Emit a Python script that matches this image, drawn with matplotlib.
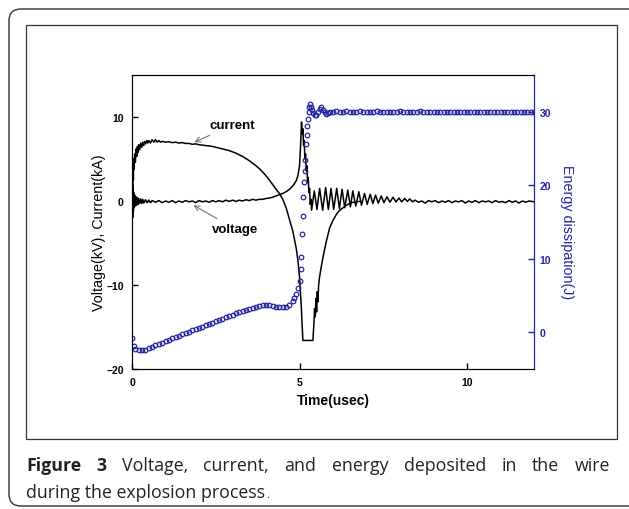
import numpy as np
import matplotlib.pyplot as plt
from matplotlib.patches import PathPatch, Rectangle
from matplotlib.path import Path

# current through the wire (kA)
t_current = [0.00, 0.01, 0.02, 0.03, 0.04, 0.05, 0.06, 0.08, 0.10, 0.12, 0.14, 0.16, 0.18, 0.20,
             0.23, 0.26, 0.29, 0.32, 0.35, 0.38, 0.41, 0.44, 0.47, 0.50, 0.55, 0.60, 0.65, 0.70,
             0.75, 0.80, 0.85, 0.90, 1.0, 1.1, 1.2, 1.3, 1.4, 1.5, 1.6, 1.7, 1.8, 1.9, 2.0, 2.1,
             2.2, 2.3, 2.4, 2.5, 2.6, 2.7, 2.8, 2.9, 3.0, 3.1, 3.2, 3.3, 3.4, 3.5, 3.6, 3.7, 3.8,
             3.9, 4.0, 4.1, 4.2, 4.3, 4.4, 4.5, 4.6, 4.7, 4.8, 4.9, 4.95, 5.0, 5.05, 5.1, 5.2,
             5.3, 5.4, 5.43, 5.45, 5.47, 5.49, 5.51, 5.53, 5.55, 5.57, 5.6, 5.65, 5.7, 5.8, 5.9,
             6.0, 6.1, 6.2, 6.3, 6.4, 6.5, 6.6, 6.8]
current = [-3.5, 2.0, 0.5, 4.0, 2.5, 5.0, 3.8, 5.6, 4.6, 6.2, 5.3, 6.5, 5.8, 6.7,
           6.1, 6.9, 6.4, 7.0, 6.6, 7.1, 6.8, 7.2, 6.9, 7.2, 6.9, 7.3, 7.0, 7.3,
           7.0, 7.2, 7.0, 7.1, 7.0, 7.05, 6.95, 7.0, 6.9, 6.95, 6.85, 6.85, 6.75, 6.8, 6.7, 6.65,
           6.6, 6.55, 6.5, 6.4, 6.3, 6.2, 6.1, 6.0, 5.85, 5.7, 5.5, 5.3, 5.05, 4.8, 4.5, 4.2, 3.85,
           3.45, 3.0, 2.5, 1.95, 1.4, 0.9, 0.2, -0.8, -2.2, -3.6, -5.6, -7.0, -9.0, -12.4, -16.6, -16.6,
           -16.6, -16.6, -14.5, -12.8, -13.8, -11.6, -13.2, -10.8, -12.0, -10.0, -9.0, -7.8, -6.7, -4.8, -3.2,
           -2.3, -1.6, -1.1, -0.8, -0.5, -0.3, -0.15, -0.05]

# voltage across the wire (kV)
t_voltage = [0.00, 0.005, 0.01, 0.02, 0.03, 0.04, 0.05, 0.06, 0.08, 0.10, 0.12, 0.14, 0.16, 0.18,
             0.20, 0.23, 0.26, 0.29, 0.32, 0.35, 0.40, 0.45, 0.50, 0.55, 0.60, 0.70, 0.80, 0.90,
             1.0, 1.1, 1.2, 1.3, 1.4, 1.5, 1.6, 1.7, 1.8, 1.9, 2.0, 2.1, 2.2, 2.3, 2.4, 2.5, 2.6,
             2.7, 2.8, 2.9, 3.0, 3.1, 3.2, 3.3, 3.4, 3.5, 3.6, 3.7, 3.8, 3.9, 4.0, 4.1, 4.2, 4.3,
             4.4, 4.5, 4.6, 4.7, 4.8, 4.9, 4.95, 5.00, 5.03, 5.06, 5.08, 5.10, 5.12, 5.14, 5.16,
             5.18, 5.20, 5.22, 5.24, 5.26, 5.28, 5.30, 5.32, 5.34, 5.36, 5.44, 5.52, 5.60, 5.69,
             5.78, 5.86, 5.94, 6.02, 6.11, 6.19, 6.27, 6.35, 6.44, 6.52, 6.59, 6.68, 6.77, 6.85,
             6.94, 7.02, 7.11, 7.19, 7.27, 7.35, 7.44, 7.52, 7.61, 7.70, 7.79, 7.88, 7.97, 8.05,
             8.14, 8.22, 8.29, 8.37, 8.45, 8.55, 8.65, 8.75, 8.85, 8.95, 9.05, 9.15, 9.25, 9.35,
             9.45, 9.55, 9.65, 9.75, 9.85, 9.95, 10.05, 10.15, 10.25, 10.35, 10.45, 10.55, 10.65,
             10.75, 10.85, 10.95, 11.05, 11.15, 11.25, 11.35, 11.45, 11.55, 11.65, 11.75, 11.85, 12.0]
voltage = [0.0, -4.0, 3.0, -2.0, 1.5, -1.2, 1.0, -0.8, 0.7, -0.6, 0.5, -0.5, 0.4, -0.4,
           0.3, -0.3, 0.25, -0.3, 0.2, -0.25, 0.15, -0.2, 0.1, -0.2, 0.05, -0.15, 0.05, -0.2,
           0.0, -0.15, 0.05, -0.2, 0.0, -0.15, 0.05, -0.1, 0.0, -0.2, 0.05, -0.1, 0.0, -0.15, 0.05, -0.1, 0.05,
           -0.1, 0.1, -0.05, 0.1, -0.05, 0.1, 0.0, 0.15, 0.05, 0.2, 0.1, 0.2, 0.2, 0.3, 0.35, 0.45, 0.6,
           0.75, 0.9, 1.1, 1.4, 1.8, 2.4, 3.0, 4.2, 6.5, 9.4, 8.0, 8.6, 6.6, 7.2, 5.0,
           5.6, 3.6, 4.2, 2.2, 2.8, 1.0, 1.5, -0.4, 0.2, -1.1, 1.2, -1.0, 1.5, -1.1,
           1.6, -1.0, 1.5, -1.0, 1.5, -0.9, 1.4, -0.8, 1.3, -0.7, 1.2, -0.6, 1.1, -0.5,
           0.9, -0.4, 0.8, -0.3, 0.7, -0.25, 0.6, -0.2, 0.5, -0.15, 0.45, -0.1, 0.35, -0.1,
           0.3, -0.05, 0.25, -0.1, 0.1, -0.15, 0.0, -0.25, 0.05, -0.1, 0.05, -0.2, 0.0, -0.15,
           0.05, -0.2, 0.0, -0.1, 0.05, -0.25, 0.0, -0.15, 0.05, -0.2, 0.0, -0.1, 0.0,
           -0.2, 0.05, -0.15, -0.05, -0.2, 0.05, -0.15, 0.0, -0.25, 0.0, -0.15, 0.0, -0.1]

# energy dissipated in the wire (J)
t_energy = [0.00, 0.05, 0.10, 0.20, 0.30, 0.40, 0.50, 0.60, 0.70, 0.80, 0.90, 1.00, 1.10, 1.20,
            1.30, 1.40, 1.50, 1.60, 1.70, 1.80, 1.90, 2.00, 2.10, 2.20, 2.30, 2.40, 2.50, 2.60,
            2.70, 2.80, 2.90, 3.00, 3.10, 3.20, 3.30, 3.40, 3.50, 3.60, 3.70, 3.80, 3.90, 4.00,
            4.10, 4.20, 4.30, 4.40, 4.50, 4.60, 4.70, 4.80, 4.85, 4.90, 4.95, 5.00, 5.03, 5.05,
            5.07, 5.09, 5.11, 5.13, 5.15, 5.17, 5.19, 5.21, 5.23, 5.25, 5.27, 5.29, 5.31, 5.33,
            5.36, 5.40, 5.45, 5.50, 5.55, 5.60, 5.65, 5.70, 5.75, 5.80, 5.85, 5.90, 6.0, 6.1,
            6.2, 6.3, 6.4, 6.5, 6.6, 6.7, 6.8, 6.9, 7.0, 7.1, 7.2, 7.3, 7.4, 7.5, 7.6, 7.7, 7.8,
            7.9, 8.0, 8.1, 8.2, 8.3, 8.4, 8.5, 8.6, 8.7, 8.8, 8.9, 9.0, 9.1, 9.2, 9.3, 9.4, 9.5,
            9.6, 9.7, 9.8, 9.9, 10.0, 10.1, 10.2, 10.3, 10.4, 10.5, 10.6, 10.7, 10.8, 10.9, 11.0,
            11.1, 11.2, 11.3, 11.4, 11.5, 11.6, 11.7, 11.8, 11.9, 12.0]
energy = [-0.8, -1.9, -2.3, -2.45, -2.45, -2.35, -2.15, -1.95, -1.77, -1.6, -1.42, -1.2, -1.02, -0.84,
          -0.66, -0.48, -0.3, -0.12, 0.06, 0.24, 0.42, 0.6, 0.78, 0.96, 1.14, 1.32, 1.5, 1.68,
          1.86, 2.04, 2.22, 2.4, 2.58, 2.76, 2.92, 3.08, 3.22, 3.35, 3.47, 3.57, 3.64, 3.68,
          3.66, 3.6, 3.5, 3.42, 3.4, 3.48, 3.75, 4.2, 4.6, 5.2, 6.0, 7.0, 8.6, 10.3,
          13.3, 15.8, 18.4, 20.4, 21.9, 23.5, 25.6, 26.9, 28.0, 29.0, 29.9, 30.6, 31.0, 30.7,
          30.2, 29.8, 29.6, 29.5, 29.9, 30.4, 30.6, 30.3, 29.9, 29.7, 29.8, 29.9, 30.0, 30.05,
          30.0, 30.0, 30.05, 30.0, 30.0, 30.0, 30.05, 30.0, 30.0, 30.0, 30.0, 30.05, 30.0, 30.0, 30.0, 30.0, 30.0,
          30.0, 30.05, 30.0, 30.0, 30.0, 30.0, 30.0, 30.05, 30.0, 30.0, 30.0, 30.0, 30.0, 30.0, 30.0, 30.0, 30.0,
          30.0, 30.0, 30.0, 30.0, 30.0, 30.0, 30.0, 30.0, 30.0, 30.0, 30.0, 30.0, 30.0, 30.0, 30.0,
          30.0, 30.0, 30.0, 30.0, 30.0, 30.0, 30.0, 30.0, 30.0, 30.0]

x_ticks = [0, 5, 10]
left_ticks = [-20, -10, 0, 10]
right_ticks = [0, 10, 20, 30]

blue = "#2424a0"
ink = "#222222"
plt.rcParams['font.family'] = ['Liberation Sans', 'DejaVu Sans']

fig = plt.figure(figsize=(6.29, 5.10), dpi=100)

# page frame: open rounded box on the left (its right side is off the page), plain inner box
r = 0.12
verts = [(6.29, 5.00), (0.09 + r, 5.00), (0.09, 5.00), (0.09, 5.00 - r),
         (0.09, 0.03 + r), (0.09, 0.03), (0.09 + r, 0.03), (6.29, 0.03)]
codes = [Path.MOVETO, Path.LINETO, Path.CURVE3, Path.CURVE3,
         Path.LINETO, Path.CURVE3, Path.CURVE3, Path.LINETO]
outer = PathPatch(Path(verts, codes), transform=fig.dpi_scale_trans, fill=False,
                  ec="#333333", lw=1.0)
inner = Rectangle((0.26, 0.70), 5.91, 4.14, transform=fig.dpi_scale_trans,
                  fill=False, ec="#333333", lw=0.9)
fig.patches.extend([outer, inner])

ax = fig.add_axes([0.2099, 0.2745, 0.6391, 0.5765])
ax.plot(t_current, current, color="black", lw=1.1)
ax.plot(t_voltage, voltage, color="black", lw=1.1)
ax.set_xlim(0, 12)
ax.set_ylim(-20, 15)
ax.set_xticks(x_ticks)
ax.set_yticks(left_ticks)
ax.tick_params(direction="in", length=4, width=1, labelsize=7.5, pad=6)
for lab in ax.get_xticklabels() + ax.get_yticklabels():
    lab.set_fontweight("bold")
ax.set_xlabel("Time(usec)", fontsize=10, fontweight="bold", labelpad=4)
ax.set_ylabel("Voltage(kV), Current(kA)", fontsize=10.3, va="center")
ax.yaxis.set_label_coords(-0.082, 0.466)
for s in ax.spines.values():
    s.set_color("#333333")

ax.annotate("current", xy=(1.86, 7.0), xytext=(2.3, 9.0), fontsize=9.5, fontweight="bold",
            va="center", ha="left",
            arrowprops=dict(arrowstyle="->", color="#777777", lw=0.8, shrinkA=2, shrinkB=0))
ax.annotate("voltage", xy=(1.83, -0.5), xytext=(2.38, -3.3), fontsize=9.5, fontweight="bold",
            va="center", ha="left",
            arrowprops=dict(arrowstyle="->", color="#777777", lw=0.8, shrinkA=2, shrinkB=0))

ax2 = ax.twinx()
ax2.plot(t_energy, energy, ls="none", marker="o", ms=3.3, mfc="none", mec=blue, mew=0.9)
ax2.set_ylim(-5, 35)
ax2.set_yticks(right_ticks)
ax2.tick_params(direction="in", length=4, width=1, labelsize=7.5, pad=4, colors=blue)
for lab in ax2.get_yticklabels():
    lab.set_fontweight("bold")
ax2.spines["right"].set_color(blue)
ax2.set_ylabel("Energy dissipation(J)", fontsize=10.3, color=blue, rotation=270, va="center")
ax2.yaxis.set_label_coords(1.082, 0.469)

# caption, first line justified across the frame
cap_font = ['Open Sans', 'DejaVu Sans']
cap_size = 12.8
line1 = [("Figure", True), ("3", True), ("Voltage,", False), ("current,", False), ("and", False),
         ("energy", False), ("deposited", False), ("in", False), ("the", False), ("wire", False)]
x0, x1 = 26 / 629, 610 / 629
y1, y2 = 1 - 471 / 510, 1 - 498 / 510
renderer = fig.canvas.get_renderer()
words = []
for w, bold in line1:
    words.append(fig.text(0, y1, w, fontsize=cap_size, family=cap_font, color=ink,
                          fontweight="bold" if bold else "normal", va="baseline"))
widths = [t.get_window_extent(renderer).width / fig.bbox.width for t in words]
gap = (x1 - x0 - sum(widths)) / (len(words) - 1)
xpos = x0
for t, wd in zip(words, widths):
    t.set_x(xpos)
    xpos += wd + gap
last = fig.text(x0, y2, "during the explosion process", fontsize=cap_size, family=cap_font,
                color=ink, va="baseline")
end = last.get_window_extent(renderer).x1 / fig.bbox.width
fig.text(end + 0.001, y2, ".", fontsize=8, family=cap_font, color=ink, va="baseline")

fig.savefig("out.png", dpi=100)
